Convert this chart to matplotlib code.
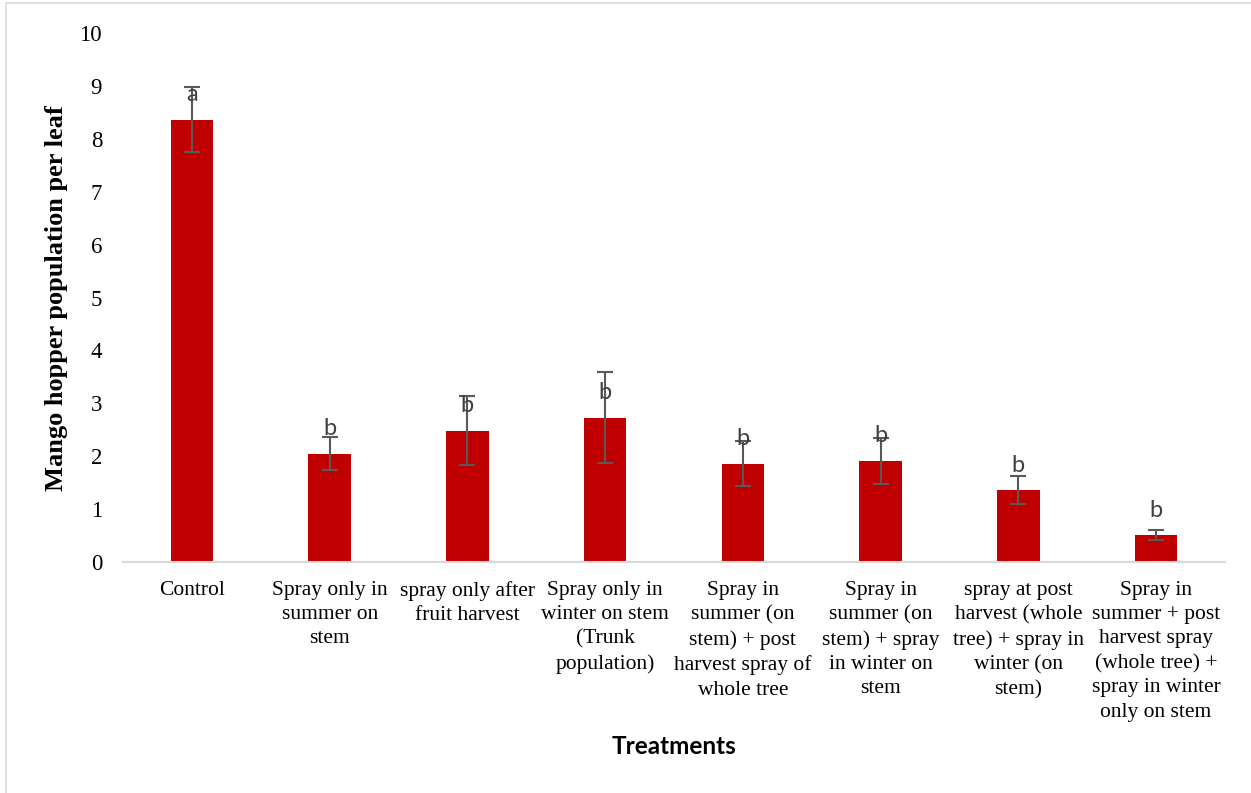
import matplotlib
matplotlib.use("Agg")
import matplotlib.pyplot as plt
from matplotlib.patches import Rectangle

categories = [
    "Control",
    "Spray only in\nsummer on\nstem",
    "spray only after\nfruit harvest",
    "Spray only in\nwinter on stem\n(Trunk\npopulation)",
    "Spray in\nsummer (on\nstem) + post\nharvest spray of\nwhole tree",
    "Spray in\nsummer (on\nstem) + spray\nin winter on\nstem",
    "spray at post\nharvest (whole\ntree) + spray in\nwinter (on\nstem)",
    "Spray in\nsummer + post\nharvest spray\n(whole tree) +\nspray in winter\nonly on stem",
]
means = [8.36, 2.05, 2.48, 2.73, 1.86, 1.91, 1.36, 0.51]
errors = [0.61, 0.32, 0.65, 0.86, 0.43, 0.44, 0.27, 0.10]
letters = ["a", "b", "b", "b", "b", "b", "b", "b"]
yticks = [0, 1, 2, 3, 4, 5, 6, 7, 8, 9, 10]

W, H = 1251, 793
fig = plt.figure(figsize=(W / 100, H / 100), dpi=100)
ax = fig.add_axes([123 / W, 1 - 562 / H, (1225 - 123) / W, (562 - 33) / H])

x = list(range(len(categories)))
ax.bar(x, means, width=0.31, color="#C00000", zorder=2)
ax.errorbar(x, means, yerr=errors, fmt="none", ecolor="#595959",
            elinewidth=1.5, capsize=5.5, capthick=1.5, zorder=3)
for xi, m, lab in zip(x, means, letters):
    ax.annotate(lab, (xi, m), xytext=(0, 18), textcoords="offset points",
                ha="center", va="center", fontsize=17, color="#404040",
                family="Lato", zorder=4)

ax.set_xlim(-0.5, len(categories) - 0.5)
ax.set_ylim(0, 10)
ax.set_yticks(yticks)
ax.set_yticklabels([str(t) for t in yticks], family="Liberation Serif", fontsize=16.5)
ax.set_xticks(x)
ax.set_xticklabels(categories, family="Liberation Serif", fontsize=15.5,
                   linespacing=1.38, va="top")
ax.tick_params(axis="both", length=0)
ax.tick_params(axis="x", pad=13.5)
ax.tick_params(axis="y", pad=15)
for s in ["top", "right", "left"]:
    ax.spines[s].set_visible(False)
ax.spines["bottom"].set_color("#d9d9d9")
ax.spines["bottom"].set_linewidth(1.5)

fig.text(57 / W, 1 - 298 / H, "Mango hopper population per leaf", rotation=90,
         ha="center", va="center", family="Liberation Serif", fontweight="bold",
         fontsize=19)
fig.text(674 / W, 1 - 746 / H, "Treatments", ha="center", va="center",
         family="Lato", fontweight="bold", fontsize=17.5)

fig.patches.append(Rectangle((6 / W, -0.02), 1 - 6 / W + 0.02, 1.02 - 3 / H,
                             transform=fig.transFigure, fill=False,
                             edgecolor="#d9d9d9", linewidth=1.2))

fig.savefig("out.png", dpi=100)
